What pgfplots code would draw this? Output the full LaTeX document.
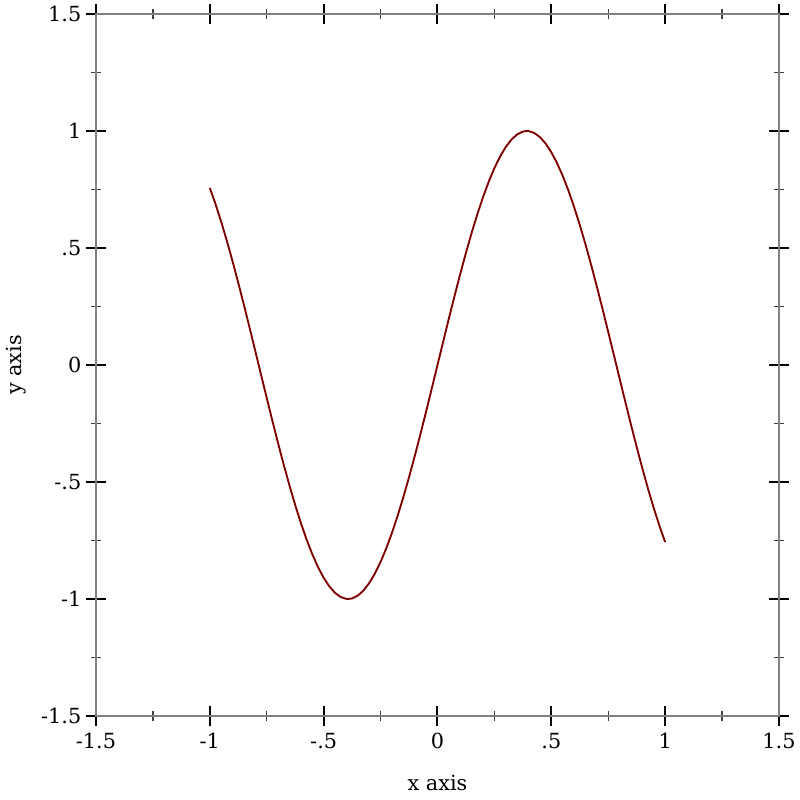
\documentclass[border=0pt]{standalone}
\usepackage{fontspec}
\setmainfont{DejaVu Serif}
\usepackage{pgfplots}
\pgfplotsset{compat=1.18}
\usetikzlibrary{calc}
\definecolor{curve}{RGB}{128,0,0}
\newcommand\lbl{\fontsize{15.6}{18}\selectfont}
\begin{document}
\begin{tikzpicture}
\begin{axis}[
  scale only axis,
  width=512.25pt, height=526.5pt,
  xmin=-1.5, xmax=1.5, ymin=-1.5, ymax=1.5,
  xtick={-1.5,-1,-0.5,0,0.5,1,1.5},
  ytick={-1.5,-1,-0.5,0,0.5,1,1.5},
  xticklabels={-1.5,-1,-.5,0,.5,1,1.5},
  yticklabels={-1.5,-1,-.5,0,.5,1,1.5},
  minor tick num=1,
  tick align=center,
  major tick length=15pt,
  minor tick length=7.5pt,
  axis line style={gray, line width=1.1pt},
  major tick style={black, line width=1.5pt},
  minor tick style={darkgray, line width=0.9pt},
  tick label style={font=\lbl},
  xticklabel style={yshift=-2pt},
  /pgf/number format/assume math mode=true,
  xlabel={x axis}, ylabel={y axis},
  label style={font=\lbl},
  xlabel style={at={(axis description cs:0.5,0)}, anchor=base, yshift=-55.5pt},
  ylabel style={at={(axis description cs:-0.1171,0.5)}, anchor=center},
]
\addplot[curve, line width=1.4pt] coordinates {
(-1,0.7568) (-0.975,0.6878) (-0.95,0.6119) (-0.925,0.5298) (-0.9,0.4425)
(-0.875,0.3508) (-0.85,0.2555) (-0.825,0.1577) (-0.8,0.0584) (-0.775,-0.0416)
(-0.75,-0.1411) (-0.725,-0.2392) (-0.7,-0.3350) (-0.675,-0.4274) (-0.65,-0.5155)
(-0.625,-0.5985) (-0.6,-0.6755) (-0.575,-0.7457) (-0.55,-0.8085) (-0.525,-0.8632)
(-0.5,-0.9093) (-0.475,-0.9463) (-0.45,-0.9738) (-0.425,-0.9917) (-0.4,-0.9996)
(-0.3927,-1) (-0.375,-0.9975) (-0.35,-0.9854) (-0.325,-0.9636) (-0.3,-0.9320)
(-0.275,-0.8912) (-0.25,-0.8415) (-0.225,-0.7833) (-0.2,-0.7174) (-0.175,-0.6442)
(-0.15,-0.5646) (-0.125,-0.4794) (-0.1,-0.3894) (-0.075,-0.2955) (-0.05,-0.1987)
(-0.025,-0.0998) (0,0)
(0.025,0.0998) (0.05,0.1987) (0.075,0.2955) (0.1,0.3894) (0.125,0.4794)
(0.15,0.5646) (0.175,0.6442) (0.2,0.7174) (0.225,0.7833) (0.25,0.8415)
(0.275,0.8912) (0.3,0.9320) (0.325,0.9636) (0.35,0.9854) (0.375,0.9975)
(0.3927,1) (0.4,0.9996) (0.425,0.9917) (0.45,0.9738) (0.475,0.9463)
(0.5,0.9093) (0.525,0.8632) (0.55,0.8085) (0.575,0.7457) (0.6,0.6755)
(0.625,0.5985) (0.65,0.5155) (0.675,0.4274) (0.7,0.3350) (0.725,0.2392)
(0.75,0.1411) (0.775,0.0416) (0.8,-0.0584) (0.825,-0.1577) (0.85,-0.2555)
(0.875,-0.3508) (0.9,-0.4425) (0.925,-0.5298) (0.95,-0.6119) (0.975,-0.6878)
(1,-0.7568)
};
\coordinate (sw) at (rel axis cs:0,0);
\coordinate (ne) at (rel axis cs:1,1);
\end{axis}
\pgfresetboundingbox
\path[use as bounding box] ($(sw)+(-72pt,-63pt)$) rectangle ($(ne)+(15.75pt,10.5pt)$);
\end{tikzpicture}
\end{document}
